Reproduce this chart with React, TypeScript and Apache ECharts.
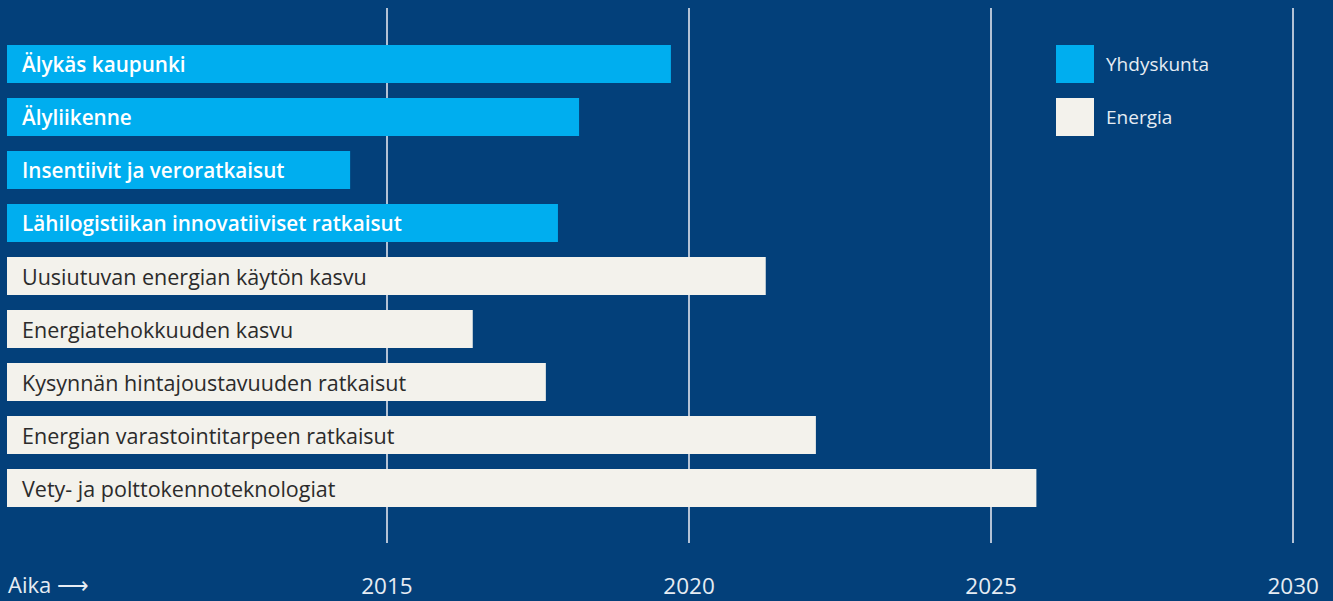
import React, { useEffect, useRef } from "react";
import * as echarts from "echarts";

const categories = [
  "Älykäs kaupunki",
  "Älyliikenne",
  "Insentiivit ja veroratkaisut",
  "Lähilogistiikan innovatiiviset ratkaisut",
  "Uusiutuvan energian käytön kasvu",
  "Energiatehokkuuden kasvu",
  "Kysynnän hintajoustavuuden ratkaisut",
  "Energian varastointitarpeen ratkaisut",
  "Vety- ja polttokennoteknologiat",
];
const yhdyskunta: (number | string)[] = [2019.7, 2018.18, 2014.39, 2017.83, "-", "-", "-", "-", "-"];
const energia: (number | string)[] = ["-", "-", "-", "-", 2021.27, 2016.42, 2017.63, 2022.1, 2025.75];
const tickYears = [2015, 2020, 2025, 2030];
const axisMin = 2008.71;
const axisMax = 2030.66;

const BG = "#03407A";
const BLUE = "#00AEEF";
const CREAM = "#F3F2EC";
const FONT = "'Open Sans', 'Noto Sans', sans-serif";

export default function App() {
  const ref = useRef<HTMLDivElement>(null);
  useEffect(() => {
    if (!ref.current) return;
    const chart = echarts.init(ref.current, undefined, { renderer: "svg" });
    const seriesLabel = (color: string, weight: any, size: number) => ({
      show: true,
      position: "insideLeft",
      distance: 15,
      color,
      fontWeight: weight,
      fontSize: size,
      fontFamily: FONT,
      formatter: (p: any) => p.name,
    });
    chart.setOption({
      animation: false,
      backgroundColor: BG,
      textStyle: { fontFamily: FONT },
      grid: [
        { left: 7, right: 0, top: 8, bottom: 58 },
        { left: 7, right: 0, top: 37.5, bottom: 86.5 },
      ],
      xAxis: [
        {
          gridIndex: 0,
          type: "value",
          min: axisMin,
          max: axisMax,
          axisLine: { show: false },
          axisTick: { show: false },
          splitLine: { show: false },
          axisLabel: {
            customValues: tickYears,
            color: "#E6ECF3",
            fontSize: 22.5,
            fontFamily: FONT,
            margin: 31,
            formatter: (v: number) => String(Math.round(v)),
          },
        },
        {
          gridIndex: 1,
          type: "value",
          min: axisMin,
          max: axisMax,
          show: false,
          splitLine: { show: false },
        },
      ],
      yAxis: [
        { gridIndex: 0, type: "value", min: 0, max: 1, show: false, splitLine: { show: false } },
        {
          gridIndex: 1,
          type: "category",
          data: categories,
          inverse: true,
          show: false,
        },
      ],
      legend: {
        orient: "vertical",
        left: 1056,
        top: 45,
        padding: 0,
        itemWidth: 38,
        itemHeight: 38,
        itemGap: 15,
        icon: "rect",
        data: ["Yhdyskunta", "Energia"],
        textStyle: { color: "#E6ECF3", fontSize: 19, fontFamily: FONT, padding: [4, 0, 0, 7] },
      },
      graphic: [
        {
          type: "text",
          left: 8,
          top: 573,
          style: { text: "Aika ⟶", fill: "#E6ECF3", fontSize: 22, fontFamily: FONT },
        },
      ],
      series: [
        {
          type: "line",
          xAxisIndex: 0,
          yAxisIndex: 0,
          data: [],
          silent: true,
          z: 1,
          markLine: {
            silent: true,
            symbol: "none",
            label: { show: false },
            lineStyle: { color: "#B3C2D5", width: 2, type: "solid" },
            data: tickYears.map((y) => ({ xAxis: y })),
          },
        },
        {
          name: "Yhdyskunta",
          type: "bar",
          xAxisIndex: 1,
          yAxisIndex: 1,
          stack: "all",
          barWidth: 38,
          z: 5,
          itemStyle: { color: BLUE },
          label: seriesLabel("#FFFFFF", 600, 20.7),
          data: yhdyskunta,
        },
        {
          name: "Energia",
          type: "bar",
          xAxisIndex: 1,
          yAxisIndex: 1,
          stack: "all",
          barWidth: 38,
          z: 5,
          itemStyle: { color: CREAM },
          label: seriesLabel("#2B2B2B", "normal", 21.5),
          data: energia,
        },
      ],
    });
    return () => chart.dispose();
  }, []);
  return (
    <div
      ref={ref}
      style={{ position: "fixed", left: 0, top: 0, width: 1333, height: 601 }}
    />
  );
}
